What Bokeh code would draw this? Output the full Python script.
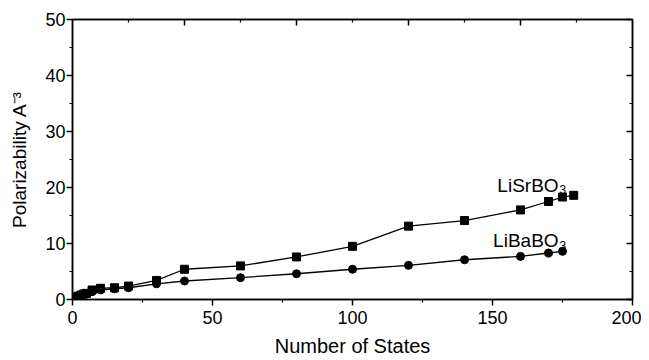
from bokeh.plotting import figure
from bokeh.models import LinearAxis, FixedTicker, Range1d
from bokeh.core.properties import value
from bokeh.embed import file_html
from bokeh.resources import INLINE

# Data
sr_states = [1, 2, 3, 4, 5, 7, 10, 15, 20, 30, 40, 60, 80, 100, 120, 140, 160, 170, 175, 179]
sr_pol = [0.4, 0.6, 0.8, 1.0, 1.1, 1.7, 2.0, 2.1, 2.4, 3.4, 5.4, 6.0, 7.6, 9.5, 13.1, 14.1, 16.0, 17.5, 18.3, 18.6]
ba_states = [1, 2, 3, 4, 5, 7, 10, 15, 20, 30, 40, 60, 80, 100, 120, 140, 160, 170, 175]
ba_pol = [0.4, 0.6, 0.7, 0.9, 1.0, 1.4, 1.7, 1.9, 2.1, 2.8, 3.3, 3.9, 4.6, 5.4, 6.1, 7.1, 7.7, 8.3, 8.6]

x_ticks = [0, 50, 100, 150, 200]
x_minor = [25, 75, 125, 175]
y_ticks = [0, 10, 20, 30, 40, 50]
y_minor = [5, 15, 25, 35, 45]
top_ticks = [40, 80, 120, 160]
top_minor = [20, 60, 100, 140, 180]

series_labels = ["LiSrBO", "LiBaBO"]
label_x = [173.6, 173.6]
label_y = [20.4, 10.5]
sub_y = [19.6, 9.7]

FONT = "Liberation Sans"

p = figure(frame_width=560, frame_height=280,
           min_border_left=72, min_border_right=9, min_border_top=19, min_border_bottom=61,
           x_range=Range1d(0, 200), y_range=Range1d(0, 50),
           output_backend="svg", toolbar_location=None,
           x_axis_label="Number of States", y_axis_label="Polarizability A\u207b\u00b3")
p.grid.visible = False
p.outline_line_color = "black"
p.outline_line_width = 1.5
p.background_fill_color = "white"
p.border_fill_color = "white"

for ax in (p.xaxis[0], p.yaxis[0]):
    ax.axis_line_width = 1.5
    ax.major_tick_line_width = 1.5
    ax.minor_tick_line_width = 1.2
    ax.major_tick_in = 0
    ax.major_tick_out = 6
    ax.minor_tick_in = 0
    ax.minor_tick_out = 3
    ax.major_label_text_font = FONT
    ax.major_label_text_font_size = "18px"
    ax.major_label_text_color = "black"
    ax.axis_label_text_font = FONT
    ax.axis_label_text_font_style = "normal"
    ax.axis_label_text_color = "black"

p.xaxis[0].ticker = FixedTicker(ticks=x_ticks, minor_ticks=x_minor)
p.yaxis[0].ticker = FixedTicker(ticks=y_ticks, minor_ticks=y_minor)
p.xaxis[0].major_label_standoff = 5
p.yaxis[0].major_label_standoff = 1
p.xaxis[0].axis_label_text_font_size = "20px"
p.yaxis[0].axis_label_text_font_size = "19px"
p.xaxis[0].axis_label_standoff = 8
p.yaxis[0].axis_label_standoff = 12

top = LinearAxis(ticker=FixedTicker(ticks=top_ticks, minor_ticks=top_minor),
                 major_label_text_color=None, major_tick_in=6, major_tick_out=0,
                 minor_tick_in=3, minor_tick_out=0, axis_line_width=1.5,
                 major_tick_line_width=1.5, minor_tick_line_width=1.2)
right = LinearAxis(ticker=FixedTicker(ticks=y_ticks, minor_ticks=y_minor),
                   major_label_text_color=None, major_tick_in=6, major_tick_out=0,
                   minor_tick_in=3, minor_tick_out=0, axis_line_width=1.5,
                   major_tick_line_width=1.5, minor_tick_line_width=1.2)
top.major_label_text_font_size = "1px"
right.major_label_text_font_size = "1px"
top.major_label_standoff = 0
right.major_label_standoff = 0
p.add_layout(top, "above")
p.add_layout(right, "right")
p.min_border_top = 19
p.min_border_right = 9

p.line(sr_states, sr_pol, line_color="black", line_width=1.3)
p.scatter(sr_states, sr_pol, marker="square", size=8, fill_color="black", line_color="black")
p.line(ba_states, ba_pol, line_color="black", line_width=1.3)
p.scatter(ba_states, ba_pol, marker="circle", size=8, fill_color="black", line_color="black")

p.text(x=label_x, y=label_y, text=series_labels, text_align="right", text_baseline="alphabetic",
       text_font=value(FONT), text_font_size="19px", text_color="black")
p.text(x=label_x, y=sub_y, text=["3", "3"], text_align="left", text_baseline="alphabetic",
       x_offset=1, text_font=value(FONT), text_font_size="12px", text_color="black")

open("out.html", "w").write(file_html(p, INLINE))
